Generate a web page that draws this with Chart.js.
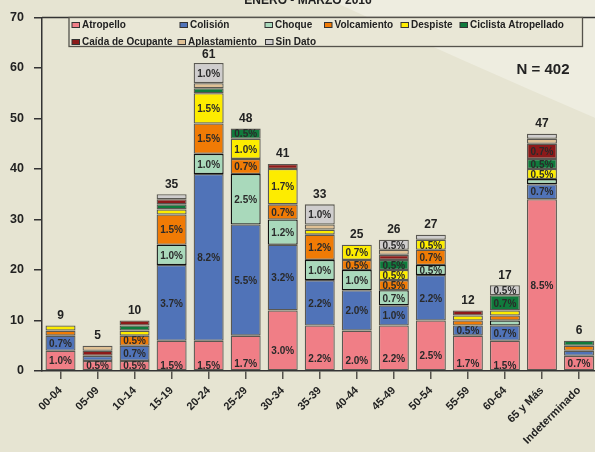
<!DOCTYPE html>
<html>
<head>
<meta charset="utf-8">
<script src="https://cdn.jsdelivr.net/npm/chart.js@4/dist/chart.umd.min.js"></script>
<style>
html,body{margin:0;padding:0;overflow:hidden;background:#e6e4d2;}
#wrap{width:600px;height:452px;position:relative;}
</style>
</head>
<body>
<div id="wrap"><canvas id="c" width="600" height="452"></canvas></div>
<script>
const categories = ['00-04','05-09','10-14','15-19','20-24','25-29','30-34','35-39','40-44','45-49','50-54','55-59','60-64','65 y Más','Indeterminado'];
const atropello     = [4,2,2,6,6,7,12,9,8,9,10,7,6,34,3];
const colision      = [3,1,3,15,33,22,13,9,8,4,9,2,3,3,1];
const choque        = [0,0,0,4,4,10,5,4,4,3,2,0,1,1,0];
const volcamiento   = [1,0,2,6,6,3,3,5,2,2,3,1,1,0,1];
const despiste      = [1,0,1,1,6,4,7,1,3,2,2,1,1,2,0];
const ciclista      = [0,0,1,1,1,2,0,0,0,2,0,0,3,2,1];
const caida         = [0,1,1,1,0,0,1,0,0,1,0,1,0,3,0];
const aplastamiento = [0,1,0,0,1,0,0,1,0,1,0,0,0,1,0];
const sinDato       = [0,0,0,1,4,0,0,4,0,2,1,0,2,1,0];
const seriesNames = ['Atropello','Colisión','Choque','Volcamiento','Despiste','Ciclista Atropellado','Caída de Ocupante','Aplastamiento','Sin Dato'];
const yTicks = [0,10,20,30,40,50,60,70];
const titleText = 'ENERO - MARZO 2016';
const nText = 'N = 402';

const seriesData = [atropello,colision,choque,volcamiento,despiste,ciclista,caida,aplastamiento,sinDato];
const colors = ['#f07e86','#5073b8','#a9d9bb','#f07b05','#fdec00','#107a3c','#8c1a1a','#e0c195','#cfcdcd'];
const grandTotal = seriesData.reduce((s,a)=>s+a.reduce((x,y)=>x+y,0),0);

const datasets = seriesData.map((d,i)=>({
  label: seriesNames[i],
  data: d,
  backgroundColor: colors[i],
  borderColor: i===2 ? '#111' : '#5a5852',
  borderWidth: 1.3,
  borderSkipped: false,
  barPercentage: 0.81,
  categoryPercentage: 1.0
}));

const FONT = '"Liberation Sans", Arial, sans-serif';

const bgPlugin = {
  id:'bg',
  beforeDraw(chart){
    const ctx = chart.ctx;
    ctx.save();
    ctx.fillStyle = '#e6e4d2';
    ctx.fillRect(0,0,chart.width,chart.height);
    ctx.fillStyle = '#eeede0';
    ctx.beginPath();
    ctx.moveTo(330,0);
    ctx.lineTo(chart.width,0);
    ctx.lineTo(chart.width,120);
    ctx.quadraticCurveTo(460,60,330,0);
    ctx.closePath();
    ctx.fill();
    ctx.fillStyle = '#222';
    ctx.font = 'bold 12px ' + FONT;
    ctx.textAlign = 'center';
    ctx.textBaseline = 'alphabetic';
    ctx.fillText(titleText, 308, 4);
    ctx.restore();
  },
  afterDraw(chart){
    const ctx = chart.ctx;
    const ca = chart.chartArea;
    ctx.save();
    ctx.strokeStyle = '#333';
    ctx.lineWidth = 1.5;
    ctx.beginPath();
    ctx.moveTo(ca.left, ca.top);
    ctx.lineTo(chart.width, ca.top);
    ctx.stroke();
    const lx = 69, ly = 17.5, lw = 513.5, lh = 29;
    ctx.fillStyle = '#e9e7d6';
    ctx.fillRect(lx,ly,lw,lh);
    ctx.strokeStyle = '#55534c';
    ctx.lineWidth = 1.3;
    ctx.strokeRect(lx,ly,lw,lh);
    const pos = [[72,25],[180,25],[265,25],[324.5,25],[401,25],[460,25],[72,42],[178,42],[265.5,42]];
    ctx.font = 'bold 10px ' + FONT;
    ctx.textBaseline = 'middle';
    ctx.textAlign = 'left';
    chart.data.datasets.forEach((ds,i)=>{
      const [x,y] = pos[i];
      ctx.fillStyle = ds.backgroundColor;
      ctx.fillRect(x, y-2.5, 7.5, 5);
      ctx.strokeStyle = '#333';
      ctx.lineWidth = 1;
      ctx.strokeRect(x, y-2.5, 7.5, 5);
      ctx.fillStyle = '#222';
      ctx.fillText(ds.label, x+10, y+0.5);
    });
    ctx.font = 'bold 15px ' + FONT;
    ctx.textAlign = 'center';
    ctx.fillText(nText, 543, 70);
    ctx.restore();
  }
};

const labelPlugin = {
  id:'labels',
  afterDatasetsDraw(chart){
    const ctx = chart.ctx;
    ctx.save();
    ctx.textAlign = 'center';
    ctx.textBaseline = 'middle';
    ctx.font = 'bold 10px ' + FONT;
    ctx.fillStyle = '#2a2a2a';
    chart.data.datasets.forEach((ds,di)=>{
      const meta = chart.getDatasetMeta(di);
      meta.data.forEach((bar,j)=>{
        const v = ds.data[j];
        if (v < 2) return;
        const top = Math.min(bar.y, bar.base), bot = Math.max(bar.y, bar.base);
        let y = (top+bot)/2 + 1;
        const h = bot-top;
        if (di===0 && h>25 && h<100) y += 10;
        ctx.fillText((v/grandTotal*100).toFixed(1)+'%', bar.x, y);
      });
    });
    const last = chart.getDatasetMeta(chart.data.datasets.length-1);
    const yScale = chart.scales.y;
    ctx.font = 'bold 12px ' + FONT;
    ctx.textBaseline = 'alphabetic';
    ctx.fillStyle = '#222';
    categories.forEach((c,j)=>{
      const tot = seriesData.reduce((s,a)=>s+a[j],0);
      const x = last.data[j].x;
      let y = yScale.getPixelForValue(tot) - 6.5;
      if (y < 57.5) y = 57.5;
      ctx.fillText(String(tot), x, y);
    });
    ctx.restore();
  }
};

new Chart(document.getElementById('c'), {
  type:'bar',
  data:{ labels: categories, datasets },
  options:{
    responsive:false,
    animation:false,
    layout:{ padding:{ top:13, right:2.5, left:0, bottom:0 } },
    plugins:{ legend:{display:false}, tooltip:{enabled:false} },
    scales:{
      x:{
        stacked:true,
        offset:true,
        grid:{ display:true, drawOnChartArea:false, offset:false, tickLength:8, color:'#55534c', lineWidth:1.5 },
        border:{ display:true, color:'#333', width:1.5 },
        ticks:{ maxRotation:45, minRotation:45, color:'#222', font:{ family:FONT, size:11, weight:'bold' }, padding:5 },
        afterFit(s){ s.height = 81; }
      },
      y:{
        stacked:true,
        min:0, max:70,
        afterBuildTicks(s){ s.ticks = yTicks.map(v=>({value:v})); },
        grid:{ display:true, drawOnChartArea:false, tickLength:8, color:'#333', lineWidth:1.5 },
        border:{ display:true, color:'#333', width:1.5 },
        ticks:{ color:'#222', font:{ family:FONT, size:12.5, weight:'bold' }, padding:10 },
        afterFit(s){ s.width = 42; }
      }
    }
  },
  plugins:[bgPlugin, labelPlugin]
});
</script>
</body>
</html>
